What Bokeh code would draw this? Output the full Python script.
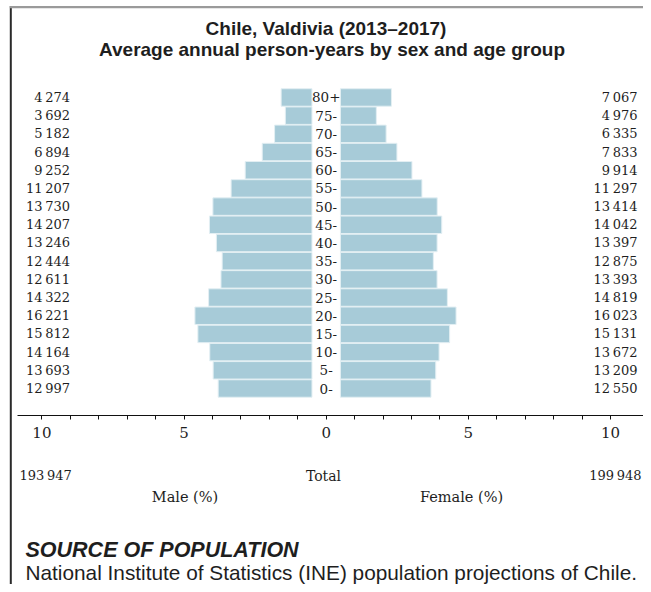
from bokeh.plotting import figure
from bokeh.models import Range1d, FixedTicker, Label, ColumnDataSource, LinearAxis
from bokeh.core.properties import value
from bokeh.embed import file_html
from bokeh.resources import INLINE

# ---------------- data ----------------
age_groups = ["0-", "5-", "10-", "15-", "20-", "25-", "30-", "35-", "40-",
              "45-", "50-", "55-", "60-", "65-", "70-", "75-", "80+"]
male = [12997, 13693, 14164, 15812, 16221, 14322, 12611, 12444, 13246,
        14207, 13730, 11207, 9252, 6894, 5182, 3692, 4274]
female = [12550, 13209, 13672, 15131, 16023, 14819, 13393, 12875, 13397,
          14042, 13414, 11297, 9914, 7833, 6335, 4976, 7067]
male_total = 193947
female_total = 199948
tick_values = list(range(-10, 11))
tick_labels = {t: (str(abs(t)) if t % 5 == 0 else "") for t in tick_values}

title1 = "Chile, Valdivia (2013\u20132017)"
title2 = "Average annual person-years by sex and age group"
source_head = "SOURCE OF POPULATION"
source_text = "National Institute of Statistics (INE) population projections of Chile."

# ---------------- geometry helpers (canvas pixels -> data) ----------------
W, H = 643, 584
PX = 28.43       # pixels per percent
CX = 325.7       # x of zero
ROW = 18.19      # pixels per age row
ROW0 = 388.0     # y of first row centre
AXIS_Y = 415.0   # y of the axis line


def dx(px):
    return (px - CX) / PX


def dy(py):
    return (ROW0 - py) / ROW


def fmt(v):
    return f"{v:,}".replace(",", "\u2009")


grand = sum(male) + sum(female)
GAP = 0.5
m_pct = [v / grand * 100 for v in male]
f_pct = [v / grand * 100 for v in female]
ys = list(range(len(age_groups)))

src = ColumnDataSource(dict(
    y=ys, age=age_groups,
    m_left=[-(GAP + v) for v in m_pct], m_right=[-GAP] * len(ys),
    f_left=[GAP] * len(ys), f_right=[GAP + v for v in f_pct],
    m_lab=[fmt(v) for v in male], f_lab=[fmt(v) for v in female],
    zero=[0] * len(ys),
    lx=[dx(69.5)] * len(ys), rx=[dx(637)] * len(ys),
))

p = figure(width=W, height=H, output_backend="svg", toolbar_location=None,
           x_range=Range1d(dx(0), dx(W)), y_range=Range1d(dy(H), dy(0)),
           min_border_left=0, min_border_right=0, min_border_top=0,
           min_border_bottom=0,
           x_axis_location=None, y_axis_location=None)
p.outline_line_color = None
p.grid.grid_line_color = None
p.background_fill_color = "white"
p.border_fill_color = "white"

# frame lines (left dark, top grey) - decoration
p.segment(x0=[dx(10.3)], y0=[dy(5.5)], x1=[dx(10.3)], y1=[dy(H + 5)],
          line_color="#2a2a2a", line_width=2)
p.segment(x0=[dx(9.3)], y0=[dy(6.6)], x1=[dx(W + 5)], y1=[dy(6.6)],
          line_color="#9a9a9a", line_width=2.3)

BAR = "#a7cbd8"
EDGE = "#e3eff3"
p.hbar(y="y", left="m_left", right="m_right", height=0.96, source=src,
       fill_color=BAR, line_color=EDGE, line_width=1)
p.hbar(y="y", left="f_left", right="f_right", height=0.96, source=src,
       fill_color=BAR, line_color=EDGE, line_width=1)

SERIF = "DejaVu Serif"
TXT = "#1e1e1e"
p.text(x="zero", y="y", text="age", source=src, text_align="center",
       text_baseline="middle", text_font=value(SERIF), text_font_size="13.5px",
       text_color=TXT)
p.text(x="lx", y="y", text="m_lab", source=src, text_align="right",
       text_baseline="middle", text_font=value(SERIF), text_font_size="13px",
       text_color=TXT)
p.text(x="rx", y="y", text="f_lab", source=src, text_align="right",
       text_baseline="middle", text_font=value(SERIF), text_font_size="13px",
       text_color=TXT)

axis = LinearAxis(ticker=FixedTicker(ticks=tick_values))
axis.fixed_location = dy(AXIS_Y)
axis.major_label_overrides = tick_labels
axis.bounds = (dx(17), dx(646))
axis.minor_tick_line_color = None
axis.major_tick_in = 0
axis.major_tick_out = 4
axis.axis_line_color = "#111111"
axis.major_tick_line_color = "#111111"
axis.major_label_text_font = SERIF
axis.major_label_text_font_size = "15px"
axis.major_label_text_color = TXT
axis.major_label_standoff = 7
p.add_layout(axis, "below")

SANS = "Liberation Sans"


def lab(text, px, py, align, font, size, style="normal", color=TXT):
    p.add_layout(Label(x=dx(px), y=dy(py), text=text, text_align=align,
                       text_baseline="middle", text_font=font,
                       text_font_size=size, text_font_style=style,
                       text_color=color))


lab(title1, 325.5, 27.5, "center", SANS, "19px", "bold")
lab(title2, 331.5, 48.5, "center", SANS, "19px", "bold")

lab(fmt(male_total), 19, 475, "left", SERIF, "13px")
lab("Total", 323, 475, "center", SERIF, "14px")
lab(fmt(female_total), 641, 475, "right", SERIF, "13px")
lab("Male (%)", 184.5, 496, "center", SERIF, "14.5px")
lab("Female (%)", 461, 496, "center", SERIF, "14.5px")

lab(source_head, 25, 549.5, "left", SANS, "21.5px", "bold italic")
lab(source_text, 25, 571.5, "left", SANS, "20.8px")

open("out.html", "w").write(file_html(p, INLINE))
